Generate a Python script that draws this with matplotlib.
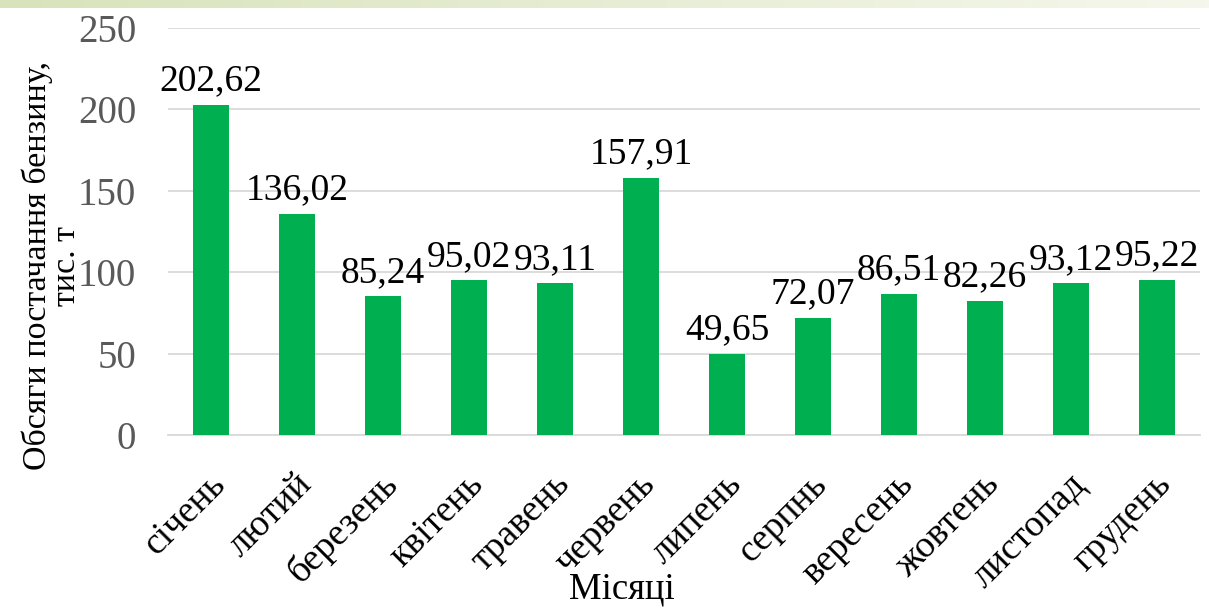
import matplotlib
matplotlib.use("Agg")
import matplotlib.pyplot as plt
import matplotlib.transforms as mtransforms
import numpy as np
from matplotlib.colors import LinearSegmentedColormap

months = ["січень", "лютий", "березень", "квітень", "травень", "червень",
          "липень", "серпнь", "вересень", "жовтень", "листопад", "грудень"]
values = [202.62, 136.02, 85.24, 95.02, 93.11, 157.91,
          49.65, 72.07, 86.51, 82.26, 93.12, 95.22]
labels = ["202,62", "136,02", "85,24", "95,02", "93,11", "157,91",
          "49,65", "72,07", "86,51", "82,26", "93,12", "95,22"]
yticks = [0, 50, 100, 150, 200, 250]

plt.rcParams['font.family'] = ['Liberation Serif', 'DejaVu Serif']

W, H = 1209, 608
fig = plt.figure(figsize=(W / 100, H / 100), dpi=100)

# top decorative band
band = fig.add_axes([0, 1 - 8/H, 1, 8/H])
grad = np.linspace(0, 1, 256).reshape(1, -1)
cm = LinearSegmentedColormap.from_list("b", ["#d8e3bb", "#f5f7ec"])
band.imshow(grad, aspect="auto", cmap=cm, extent=[0, 1, 0, 1])
band.axis("off")

ax = fig.add_axes([168/W, 1 - 435/H, 1032/W, (435 - 28)/H])
x = np.arange(len(months))
ax.bar(x, values, width=0.41, color="#00b050", zorder=3)
for xi, v, l in zip(x, values, labels):
    ax.text(xi, v + 4, l, ha="center", va="bottom", fontsize=27, color="black", zorder=4)

ax.set_xlim(-0.5, len(months) - 0.5)
ax.set_ylim(0, 250)
ax.set_yticks(yticks)
ax.set_yticklabels([str(t) for t in yticks], fontsize=28, color="#595959")
ax.yaxis.grid(True, color="#d9d9d9", linewidth=1.3, zorder=0)
ax.set_axisbelow(True)
for s in ["top", "right", "left"]:
    ax.spines[s].set_visible(False)
ax.spines["bottom"].set_color("#d9d9d9")
ax.spines["bottom"].set_linewidth(1.3)
ax.tick_params(axis="both", length=0)
ax.tick_params(axis="y", pad=23)
ax.set_xticks(x)
ax.set_xticklabels(months, rotation=45, ha="right", rotation_mode="anchor",
                   fontsize=27, color="black")
ax.tick_params(axis="x", pad=20)
shift = mtransforms.ScaledTranslation(-3/100, -4/100, fig.dpi_scale_trans)
for lab in ax.get_xticklabels():
    lab.set_transform(lab.get_transform() + shift)

fig.text(622/W, 1 - 589/H, "Місяці", ha="center", va="center", fontsize=26.5)
fig.text(52/W, 1 - 266/H, "Обсяги постачання бензину,\nтис. т", ha="center",
         va="center", rotation=90, rotation_mode="anchor", fontsize=24.5,
         linespacing=0.95)

fig.savefig("out.png", dpi=100)
